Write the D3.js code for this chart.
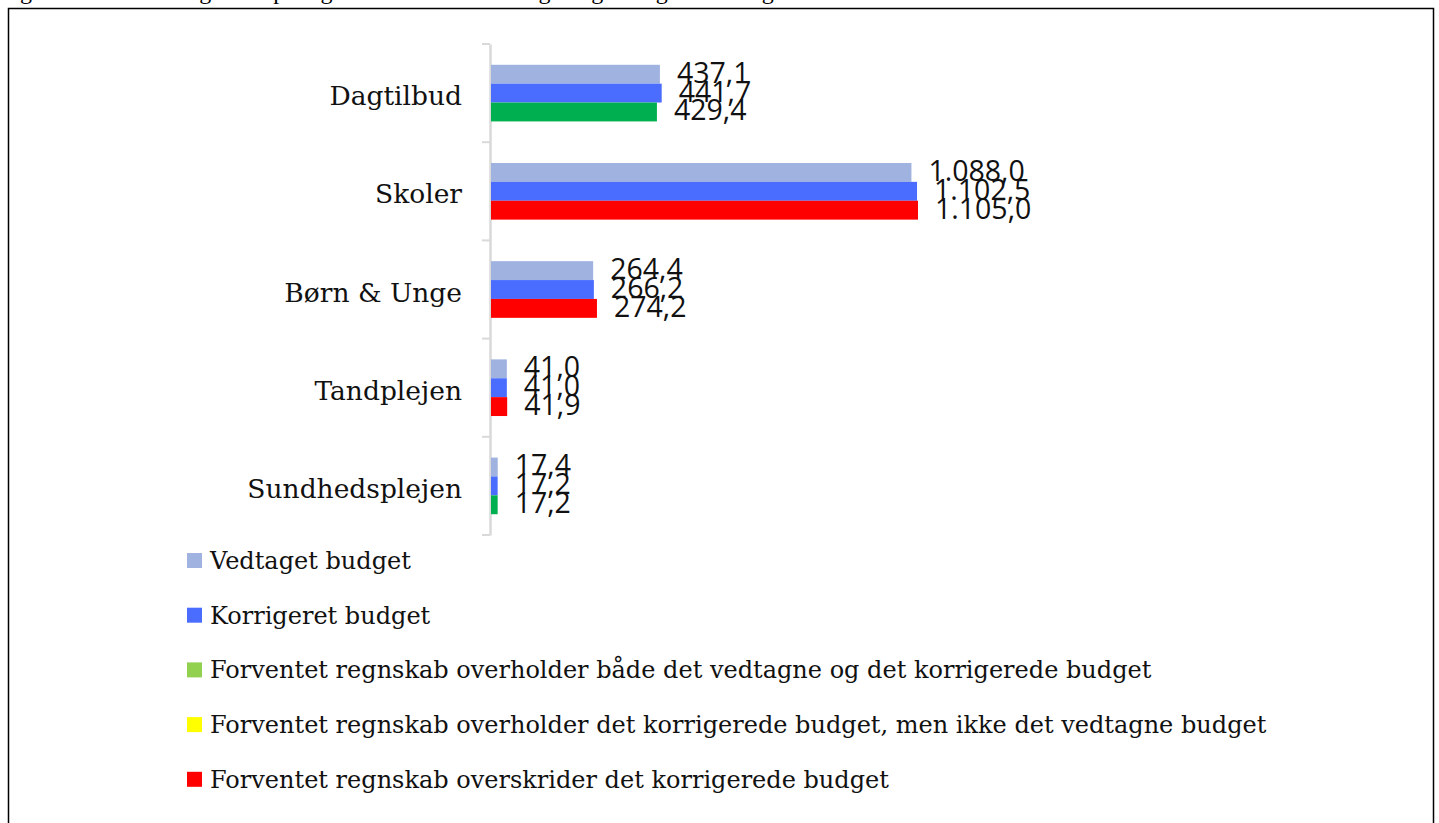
<!DOCTYPE html>
<html>
<head>
<meta charset="utf-8">
<script src="https://cdn.jsdelivr.net/npm/d3@7"></script>
<style>
  body { margin: 0; background: #fff; }
  svg { display: block; }
</style>
</head>
<body>
<div id="graph"></div>
<script>
// chart data
let categories = ["Dagtilbud", "Skoler", "Børn & Unge", "Tandplejen", "Sundhedsplejen"];
let vedtaget = [437.1, 1088.0, 264.4, 41.0, 17.4];
let korrigeret = [441.7, 1102.5, 266.2, 41.0, 17.2];
let forventet = [429.4, 1105.0, 274.2, 41.9, 17.2];
let status = ["ok", "over", "over", "over", "ok"]; // forventet vs budget
let legendLabels = [
	"Vedtaget budget",
	"Korrigeret budget",
	"Forventet regnskab overholder både det vedtagne og det korrigerede budget",
	"Forventet regnskab overholder det korrigerede budget, men ikke det vedtagne budget",
	"Forventet regnskab overskrider det korrigerede budget"
];
let titleText = "Figur 6: Forventet regnskab på fagområder fra det vedtagne og korrigerede budget i mio.kr.";

let width = 1439, height = 823;
let colors = {vedtaget: "#a0b3e0", korrigeret: "#4a6dff", ok: "#00b050", warn: "#ffff00", over: "#ff0000"};
let legendColors = ["#a0b3e0", "#4a6dff", "#92d050", "#ffff00", "#ff0000"];
let serif = "'DejaVu Serif', serif";
let numFont = "'Open Sans', 'Liberation Sans', sans-serif";

let da = d3.formatLocale({decimal: ",", thousands: ".", grouping: [3], currency: ["", " kr."]});
let fmt = da.format(",.1f");

let rows = categories.map((c, i) => ({
	cat: c,
	bars: [
		{key: "vedtaget", value: vedtaget[i], color: colors.vedtaget},
		{key: "korrigeret", value: korrigeret[i], color: colors.korrigeret},
		{key: "forventet", value: forventet[i], color: colors[status[i]]}
	]
}));

let svg = d3.select("div#graph")
	.append("svg")
	.attr("width", width)
	.attr("height", height);

// title, cut off at top edge like the source page
svg.append("text")
	.attr("x", 0)
	.attr("y", -1)
	.attr("font-family", "'Liberation Serif', serif")
	.attr("font-size", 24)
	.text(titleText);

// frame
svg.append("rect")
	.attr("x", 8.5)
	.attr("y", 8.5)
	.attr("width", 1425)
	.attr("height", 830)
	.attr("fill", "none")
	.attr("stroke", "#000")
	.attr("stroke-width", 1.5);

let x0 = 491;
let xScale = d3.scaleLinear()
	.domain([0, 1105])
	.range([x0, 918]);

let yScale = d3.scaleBand()
	.domain(categories)
	.range([44, 535]);

let inner = d3.scaleBand()
	.domain(["vedtaget", "korrigeret", "forventet"])
	.range([0, yScale.bandwidth()])
	.paddingOuter(1.1)
	.paddingInner(0);

// axis line + ticks at band boundaries
let yAxis = d3.axisLeft(yScale).tickSize(0).tickFormat("");
svg.append("g")
	.attr("transform", `translate(${x0 - 1}, 0)`)
	.call(yAxis)
	.call(g => g.select(".domain").attr("stroke", "#d9d9d9").attr("stroke-width", 2.5));

let bounds = categories.map(c => yScale(c)).concat([yScale.range()[1]]);
svg.selectAll("line.tick-b")
	.data(bounds)
	.enter()
	.append("line")
	.attr("class", "tick-b")
	.attr("x1", x0 - 9)
	.attr("x2", x0 - 1)
	.attr("y1", d => d)
	.attr("y2", d => d)
	.attr("stroke", "#d9d9d9")
	.attr("stroke-width", 2);

// category labels
svg.selectAll("text.cat")
	.data(categories)
	.enter()
	.append("text")
	.attr("class", "cat")
	.attr("x", 462)
	.attr("y", d => yScale(d) + yScale.bandwidth() / 2 + 12)
	.attr("text-anchor", "end")
	.attr("font-family", serif)
	.attr("font-size", 26.5)
	.attr("fill", "#111")
	.text(d => d);

let groups = svg.selectAll("g.row")
	.data(rows)
	.enter()
	.append("g")
	.attr("class", "row")
	.attr("transform", d => `translate(0, ${yScale(d.cat)})`);

groups.selectAll("rect")
	.data(d => d.bars)
	.enter()
	.append("rect")
	.attr("x", x0)
	.attr("y", d => inner(d.key))
	.attr("width", d => xScale(d.value) - x0)
	.attr("height", inner.bandwidth())
	.attr("fill", d => d.color);

groups.selectAll("text.val")
	.data(d => d.bars)
	.enter()
	.append("text")
	.attr("class", "val")
	.attr("x", d => xScale(d.value) + 17)
	.attr("y", d => inner(d.key) + inner.bandwidth() - 1)
	.attr("font-family", numFont)
	.attr("font-size", 28.5)
	.attr("fill", "#111")
	.text(d => fmt(d.value));

// legend
let legend = svg.selectAll("g.legend")
	.data(legendLabels)
	.enter()
	.append("g")
	.attr("class", "legend")
	.attr("transform", (d, i) => `translate(187, ${560 + i * 54.7})`);

legend.append("rect")
	.attr("x", 0)
	.attr("y", -7)
	.attr("width", 15)
	.attr("height", 15)
	.attr("fill", (d, i) => legendColors[i]);

legend.append("text")
	.attr("x", 23)
	.attr("y", 9)
	.attr("font-family", serif)
	.attr("font-size", 24)
	.attr("fill", "#111")
	.text(d => d);
</script>
</body>
</html>
